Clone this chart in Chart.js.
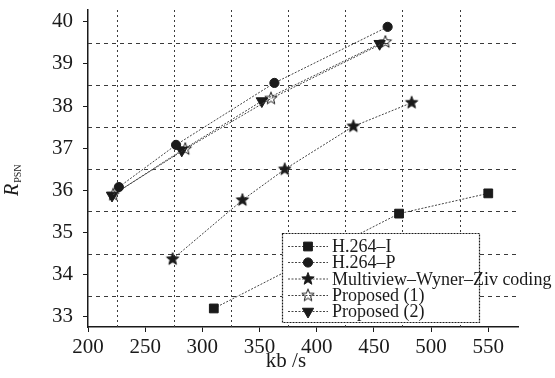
<!DOCTYPE html>
<html>
<head>
<meta charset="utf-8">
<script src="https://cdn.jsdelivr.net/npm/chart.js@4.4.1/dist/chart.umd.min.js"></script>
<style>
  html, body { margin: 0; padding: 0; background: #fff; }
  #wrap { width: 555px; height: 378px; }
</style>
</head>
<body>
<div id="wrap"><canvas id="rdChart" width="555" height="378"></canvas></div>
<script>
// rate (kb/s) vs PSNR values
const h264IRate = [310, 472, 550];
const h264IPsnr = [33.2, 35.45, 35.93];
const h264PRate = [227, 277, 363, 462];
const h264PPsnr = [36.08, 37.08, 38.55, 39.88];
const mwzRate = [274, 335, 372, 432, 483];
const mwzPsnr = [34.37, 35.77, 36.5, 37.52, 38.08];
const prop1Rate = [222, 285, 360, 460];
const prop1Psnr = [35.9, 36.98, 38.18, 39.52];
const prop2Rate = [221, 282, 352, 455];
const prop2Psnr = [35.88, 36.95, 38.12, 39.48];

const seriesNames = ['H.264\u2013I', 'H.264\u2013P', 'Multiview\u2013Wyner\u2013Ziv coding', 'Proposed (1)', 'Proposed (2)'];

const xTicks = [200, 250, 300, 350, 400, 450, 500, 550];
const yTicks = [33, 34, 35, 36, 37, 38, 39, 40];
const xGrid = [225, 275, 325, 375, 425, 475, 525];
const yGrid = [33.5, 34.5, 35.5, 36.5, 37.5, 38.5, 39.5];

const SERIF = '"Liberation Serif", "DejaVu Serif", serif';
const INK = '#1a1a1a';

// five point star as a small canvas, used as a point style
function makeStar(r, filled) {
  const c = document.createElement('canvas');
  const s = Math.ceil(r * 2 + 3);
  c.width = s; c.height = s;
  const g = c.getContext('2d');
  g.beginPath();
  for (let i = 0; i < 10; i++) {
    const rad = i % 2 === 0 ? r : r * 0.42;
    const a = -Math.PI / 2 + i * Math.PI / 5;
    const px = s / 2 + rad * Math.cos(a);
    const py = s / 2 + rad * Math.sin(a);
    if (i === 0) g.moveTo(px, py); else g.lineTo(px, py);
  }
  g.closePath();
  g.lineWidth = 1;
  g.strokeStyle = INK;
  if (filled) { g.fillStyle = INK; g.fill(); }
  g.stroke();
  return c;
}
const starFilled = makeStar(6.5, true);
const starOpen = makeStar(6.5, false);

const pts = (xs, ys) => xs.map((x, i) => ({ x: x, y: ys[i] }));

const markers = [
  { pointStyle: 'rect', radius: 6.2, rotation: 0 },
  { pointStyle: 'circle', radius: 4.6, rotation: 0 },
  { pointStyle: starFilled, radius: 6, rotation: 0 },
  { pointStyle: starOpen, radius: 6, rotation: 0 },
  { pointStyle: 'triangle', radius: 6.5, rotation: 180 },
];

function series(i, xs, ys) {
  const m = markers[i];
  return {
    label: seriesNames[i],
    data: pts(xs, ys),
    showLine: true,
    borderColor: '#444',
    borderWidth: 1,
    borderDash: [2, 1.5],
    pointStyle: m.pointStyle,
    pointRadius: m.radius,
    pointRotation: m.rotation,
    pointBackgroundColor: INK,
    pointBorderColor: INK,
    pointBorderWidth: 1,
  };
}

// dashed grid at the half steps, titles and the boxed legend
const decorations = {
  id: 'decorations',
  beforeDatasetsDraw(chart) {
    const { ctx, chartArea: a } = chart;
    const xs = chart.scales.x, ys = chart.scales.y;
    ctx.save();
    ctx.strokeStyle = '#3a3a3a';
    ctx.lineWidth = 1;
    ctx.setLineDash([2, 3]);
    xGrid.forEach(v => {
      const px = Math.round(xs.getPixelForValue(v)) + 0.5;
      ctx.beginPath(); ctx.moveTo(px, a.top); ctx.lineTo(px, a.bottom); ctx.stroke();
    });
    ctx.setLineDash([4, 4]);
    yGrid.forEach(v => {
      const py = Math.round(ys.getPixelForValue(v)) + 0.5;
      ctx.beginPath(); ctx.moveTo(a.left, py); ctx.lineTo(a.right, py); ctx.stroke();
    });
    ctx.restore();
  },
  afterDraw(chart) {
    const { ctx } = chart;
    ctx.save();
    ctx.fillStyle = INK;

    // x title
    ctx.font = '21px ' + SERIF;
    ctx.textAlign = 'center';
    ctx.textBaseline = 'alphabetic';
    ctx.fillText('kb /s', 286, 367);

    // y title R_PSN, rotated
    ctx.save();
    ctx.translate(18, 196);
    ctx.rotate(-Math.PI / 2);
    ctx.textAlign = 'left';
    ctx.font = 'italic 20px ' + SERIF;
    ctx.fillText('R', 0, 0);
    const rw = ctx.measureText('R').width;
    ctx.font = '10px ' + SERIF;
    ctx.fillText('PSN', rw + 1, 3);
    ctx.restore();

    // legend
    const bx = 282, by = 233, bw = 197, bh = 89;
    ctx.fillStyle = '#fff';
    ctx.fillRect(bx, by, bw, bh);
    ctx.strokeStyle = INK;
    ctx.lineWidth = 1.2;
    ctx.setLineDash([2, 1]);
    ctx.strokeRect(bx + 0.5, by + 0.5, bw, bh);
    const rowY = [246.5, 262.5, 279, 295.5, 311.5];
    chart.data.datasets.forEach((ds, i) => {
      const y = rowY[i];
      ctx.strokeStyle = '#444';
      ctx.lineWidth = 1;
      ctx.setLineDash([2, 1.5]);
      ctx.beginPath(); ctx.moveTo(288, y); ctx.lineTo(328, y); ctx.stroke();
      ctx.setLineDash([]);
      const m = markers[i];
      ctx.fillStyle = INK;
      ctx.strokeStyle = INK;
      Chart.helpers.drawPoint(ctx, {
        pointStyle: m.pointStyle, radius: m.radius, rotation: m.rotation, borderWidth: 1,
      }, 308, y);
      ctx.fillStyle = INK;
      ctx.font = '18px ' + SERIF;
      ctx.textAlign = 'left';
      ctx.textBaseline = 'middle';
      ctx.fillText(ds.label, 332, y + 1);
    });
    ctx.restore();
  },
};

new Chart(document.getElementById('rdChart'), {
  type: 'scatter',
  data: {
    datasets: [
      series(0, h264IRate, h264IPsnr),
      series(1, h264PRate, h264PPsnr),
      series(2, mwzRate, mwzPsnr),
      series(3, prop1Rate, prop1Psnr),
      series(4, prop2Rate, prop2Psnr),
    ],
  },
  options: {
    responsive: false,
    animation: false,
    layout: { padding: { left: 0, right: 37, top: 10, bottom: 0 } },
    plugins: { legend: { display: false }, tooltip: { enabled: false } },
    scales: {
      x: {
        type: 'linear',
        min: 200,
        max: 576,
        afterBuildTicks: (s) => { s.ticks = xTicks.map(v => ({ value: v })); },
        afterFit: (s) => { s.height = 51; s.paddingLeft = 0; s.paddingRight = 0; },
        ticks: {
          autoSkip: false,
          maxRotation: 0,
          padding: 3,
          color: INK,
          font: { family: SERIF, size: 21 },
        },
        grid: { drawOnChartArea: false, drawTicks: true, tickLength: 5, color: INK, lineWidth: 1 },
        border: { display: true, color: INK, width: 1.5, dash: [3, 1] },
      },
      y: {
        type: 'linear',
        min: 32.76,
        max: 40.28,
        afterBuildTicks: (s) => { s.ticks = yTicks.map(v => ({ value: v })); },
        afterFit: (s) => { s.width = 88; s.paddingTop = 0; s.paddingBottom = 0; },
        ticks: {
          autoSkip: false,
          padding: 10,
          color: INK,
          font: { family: SERIF, size: 21 },
        },
        grid: { drawOnChartArea: false, drawTicks: true, tickLength: 5, color: INK, lineWidth: 1 },
        border: { display: true, color: INK, width: 1.5, dash: [3, 1] },
      },
    },
  },
  plugins: [decorations],
});
</script>
</body>
</html>
